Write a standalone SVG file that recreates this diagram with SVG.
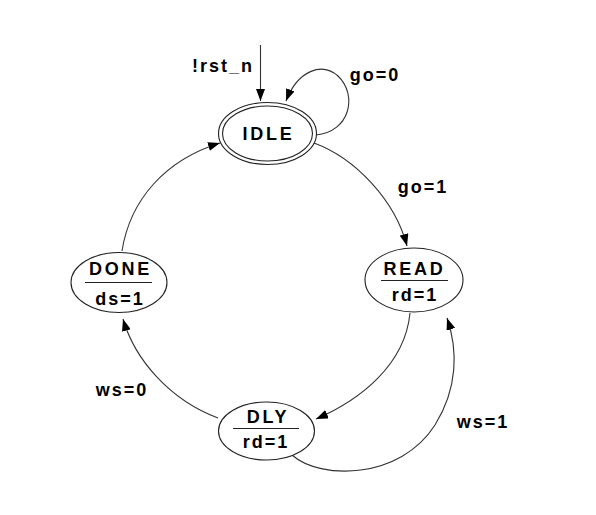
<svg xmlns="http://www.w3.org/2000/svg" width="596" height="515" viewBox="0 0 596 515">
<style>
.st{fill:#fff;stroke:#222;stroke-width:1.1}
.t{font-family:"Liberation Sans",Arial,sans-serif;font-weight:bold;font-size:18px;fill:#000;letter-spacing:2px}
.n{letter-spacing:2.8px}
.c{text-anchor:middle}
.e{fill:none;stroke:#333;stroke-width:1.1}
.d{stroke:#222;stroke-width:1.1}
</style>
<defs>
<marker id="ah" markerUnits="userSpaceOnUse" markerWidth="13" markerHeight="9" refX="12" refY="4.5" orient="auto">
<path d="M0,0 L12,4.5 L0,9 z" fill="#000"/>
</marker>
</defs>
<rect width="596" height="515" fill="#fff"/>
<g id="connectors">
<path class="e" d="M260.5,45 L260.5,101" marker-end="url(#ah)"/>
<path class="e" d="M316,135 C350,132 358,95 338,76 C322,62 298,70 286,101" marker-end="url(#ah)"/>
<path class="e" d="M314,143 C355,158 395,200 407,246" marker-end="url(#ah)"/>
<path class="e" d="M410,313 C405,365 360,400 316,419" marker-end="url(#ah)"/>
<path class="e" d="M292,455 C320,480 400,480 435,425 C458,388 458,350 447,318" marker-end="url(#ah)"/>
<path class="e" d="M218,418 C170,400 135,360 123,319" marker-end="url(#ah)"/>
<path class="e" d="M122,251 C130,200 165,160 220,143" marker-end="url(#ah)"/>
<text class="t c" x="223" y="72">!rst_n</text>
<text class="t c" x="375" y="81">go=0</text>
<text class="t c" x="423" y="193">go=1</text>
<text class="t c" x="122" y="396">ws=0</text>
<text class="t c" x="483" y="428">ws=1</text>
</g>
<g id="IDLE">
<ellipse class="st" cx="267.5" cy="133.5" rx="49" ry="31"/>
<ellipse class="st" cx="267.5" cy="133.5" rx="45" ry="27.5"/>
<text class="t n c" x="268.5" y="140">IDLE</text>
</g>
<g id="READ">
<ellipse class="st" cx="414" cy="280" rx="49" ry="32"/>
<text class="t n c" x="414.5" y="275">READ</text>
<line class="d" x1="381" y1="280.5" x2="448" y2="280.5"/>
<text class="t c" x="415" y="301">rd=1</text>
</g>
<g id="DLY">
<ellipse class="st" cx="266.5" cy="431" rx="48" ry="29"/>
<text class="t n c" x="268" y="423">DLY</text>
<line class="d" x1="233" y1="428.5" x2="299" y2="428.5"/>
<text class="t c" x="266" y="448">rd=1</text>
</g>
<g id="DONE">
<ellipse class="st" cx="119" cy="282.5" rx="48" ry="30"/>
<text class="t n c" x="120.5" y="275">DONE</text>
<line class="d" x1="85" y1="282.5" x2="152" y2="282.5"/>
<text class="t c" x="120" y="305">ds=1</text>
</g>
</svg>
